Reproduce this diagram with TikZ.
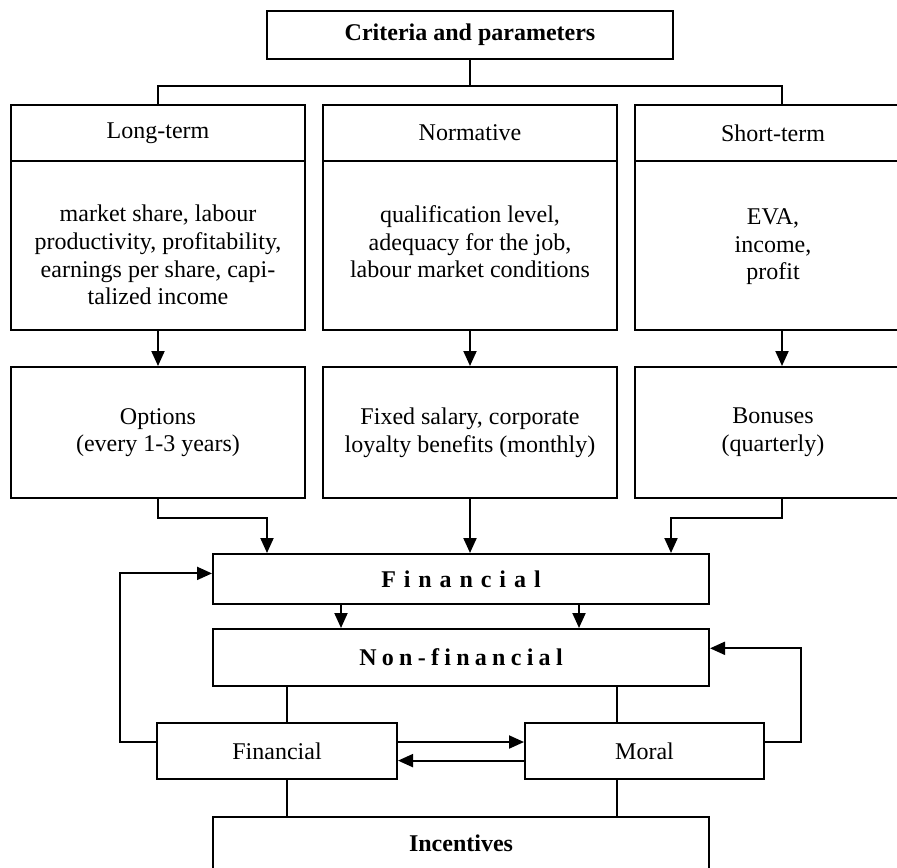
\documentclass[tikz,border=0pt]{standalone}
\usepackage{fontspec}
\setmainfont{Liberation Serif}
\usetikzlibrary{arrows.meta,calc}
\begin{document}
\begin{tikzpicture}[x=0.5pt,y=0.5pt,
  box/.style={draw,line width=1pt,inner sep=0pt,align=center,font=\fontsize{12}{13.8}\selectfont},
  txt/.style={inner sep=0pt,align=center,font=\fontsize{12}{13.8}\selectfont},
  ln/.style={line width=1pt},
  arr/.style={line width=1pt,-{Triangle[length=7.5pt,width=6.5pt]}}]
\useasboundingbox (0,0) rectangle (897,-867);
\clip (0,0) rectangle (897,-867);
% top
\node[box,minimum width=203pt,minimum height=24pt,font=\fontsize{12}{13.8}\selectfont\bfseries] (top) at (470,-35) {Criteria and parameters};
% headers
\node[box,minimum width=147pt,minimum height=28pt] (lth) at (158,-133) {Long-term};
\node[box,minimum width=147pt,minimum height=28pt] (nmh) at (470,-133) {Normative};
\node[box,minimum width=138pt,minimum height=28pt] (sth) at (773,-133) {Short-term};
% bodies
\node[box,minimum width=147pt,minimum height=84.5pt] (ltb) at (158,-245.5) {};
\node[box,minimum width=147pt,minimum height=84.5pt] (nmb) at (470,-245.5) {};
\node[box,minimum width=138pt,minimum height=84.5pt] (stb) at (773,-245.5) {};
\node[txt] (ltt) at (158,-255) {market share, labour\\productivity, profitability,\\earnings per share, capi-\\talized income};
\node[txt] (nmt) at (470,-242) {qualification level,\\adequacy for the job,\\labour market conditions};
\node[txt] (stt) at (773,-247) {EVA,\\income,\\profit};
% row 2
\node[box,minimum width=147pt,minimum height=65.5pt] (opt) at (158,-432.5) {Options\\(every 1-3 years)};
\node[box,minimum width=147pt,minimum height=65.5pt] (fix) at (470,-432.5) {Fixed salary, corporate\\loyalty benefits (monthly)};
\node[box,minimum width=138pt,minimum height=65.5pt] (bon) at (773,-432.5) {Bonuses\\(quarterly)};
% lower
\node[box,minimum width=248pt,minimum height=25pt,font=\fontsize{12}{13.8}\selectfont\bfseries\addfontfeature{LetterSpace=33}] (fin) at (461,-579) {Financial};
\node[box,minimum width=248pt,minimum height=28.5pt,font=\fontsize{12}{13.8}\selectfont\bfseries\addfontfeature{LetterSpace=22}] (nfin) at (461,-657.5) {Non-financial};
\node[box,minimum width=120pt,minimum height=28pt] (finl) at (277,-751) {Financial};
\node[box,minimum width=119.5pt,minimum height=28pt] (mor) at (644.5,-751) {Moral};
\node[box,minimum width=248pt,minimum height=26.5pt,font=\fontsize{12}{13.8}\selectfont\bfseries] (inc) at (461,-843.5) {Incentives};
% coordinates
\coordinate (hub) at (470,-86);
\coordinate (px1) at (287,0);
\coordinate (px2) at (617,0);
\coordinate (sx) at (782,0);
% top connectors
\draw[ln] (top.south) -- (hub);
\draw[ln] (hub) -| (lth.north);
\draw[ln] (hub) -| (sth.north -| sx);
% row arrows
\draw[arr] (ltb.south) -- (opt.north);
\draw[arr] (nmb.south) -- (fix.north);
\draw[arr] (stb.south -| sx) -- (bon.north -| sx);
% into financial
\draw[arr] (opt.south) -- ++(0,-19) -| ($(fin.north west)+(55,0)$);
\draw[arr] (fix.south) -- (fix.south |- fin.north);
\draw[arr] (bon.south -| sx) -- ++(0,-19) -| ($(fin.north west)+(459,0)$);
% fin -> nonfin
\draw[arr] ($(fin.south west)+(129,0)$) -- ($(nfin.north west)+(129,0)$);
\draw[arr] ($(fin.south west)+(367,0)$) -- ($(nfin.north west)+(367,0)$);
% nonfin -> lower boxes, lower -> incentives
\draw[ln] (nfin.south -| px1) -- (finl.north -| px1);
\draw[ln] (nfin.south -| px2) -- (mor.north -| px2);
\draw[ln] (finl.south -| px1) -- (inc.north -| px1);
\draw[ln] (mor.south -| px2) -- (inc.north -| px2);
% feedback
\draw[arr] ([yshift=4.5pt]finl.west) -- ++(-36,0) |- ([yshift=2.8pt]fin.west);
\draw[arr] ([yshift=4.5pt]finl.east) -- ([yshift=4.5pt]mor.west);
\draw[arr] ([yshift=-4.8pt]mor.west) -- ([yshift=-4.8pt]finl.east);
\draw[arr] ([yshift=4.5pt]mor.east) -- ++(36,0) |- ([yshift=4.6pt]nfin.east);
\end{tikzpicture}
\end{document}
